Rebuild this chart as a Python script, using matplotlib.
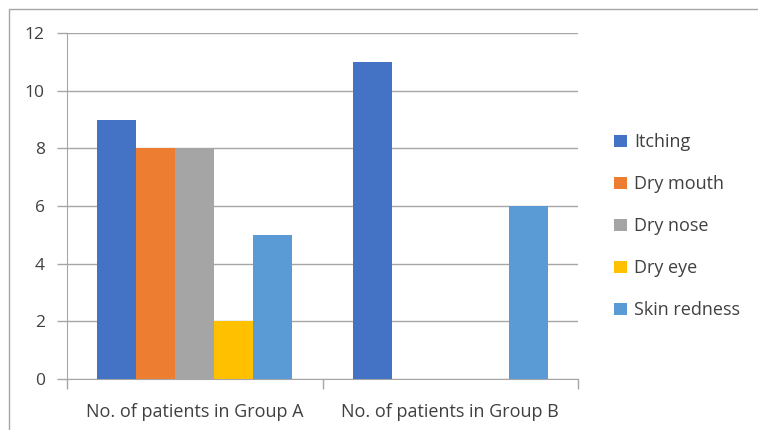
import numpy as np
import matplotlib.pyplot as plt
from matplotlib.patches import Rectangle

groups = ["No. of patients in Group A", "No. of patients in Group B"]
symptoms = ["Itching", "Dry mouth", "Dry nose", "Dry eye", "Skin redness"]
itching = [9, 11]
dry_mouth = [8, 0]
dry_nose = [8, 0]
dry_eye = [2, 0]
skin_redness = [5, 6]
colors = ["#4472C4", "#ED7D31", "#A5A5A5", "#FFC000", "#5B9BD5"]

plt.rcParams['font.family'] = ['Open Sans', 'DejaVu Sans']

fig = plt.figure(figsize=(7.58, 4.30), dpi=100)
ax = fig.add_axes([67 / 758, 1 - 379 / 430, (578 - 67) / 758, (379 - 33) / 430])

# outer chart frame
fig.patches.append(Rectangle((9 / 758, -0.1), 1.2, 1 - 9 / 430 + 0.1,
                             transform=fig.transFigure, fill=False,
                             edgecolor="#A6A6A6", linewidth=1))

series = [itching, dry_mouth, dry_nose, dry_eye, skin_redness]
x = np.arange(len(groups))
w = 0.153
for j, (vals, name, c) in enumerate(zip(series, symptoms, colors)):
    ax.bar(x + (j - 2) * w, vals, w, color=c, label=name, zorder=3)

ax.set_xlim(-0.5, 1.5)
ax.set_ylim(0, 12)
ax.set_yticks(range(0, 13, 2))
ax.set_xticks(x)
ax.set_xticklabels(groups)
ax.set_xticks([-0.5, 0.5, 1.5], minor=True)
ax.tick_params(axis='x', which='major', length=0, pad=17, labelsize=13, labelcolor="#404040")
ax.tick_params(axis='x', which='minor', length=7, color="#A6A6A6", width=1)
ax.tick_params(axis='y', length=7, color="#A6A6A6", width=1, labelsize=12.5,
               labelcolor="#404040", pad=9)
ax.grid(axis='y', color="#A6A6A6", linewidth=1, zorder=0)
for s in ["top", "right"]:
    ax.spines[s].set_visible(False)
for s in ["left", "bottom"]:
    ax.spines[s].set_color("#A6A6A6")

fig.legend(loc="upper left", bbox_to_anchor=(598 / 758, 1 - 117 / 430), frameon=False,
           fontsize=13, labelspacing=1.33, handlelength=0.7, handleheight=0.7,
           handletextpad=0.4, labelcolor="#404040")

fig.savefig("out.png", dpi=100)
